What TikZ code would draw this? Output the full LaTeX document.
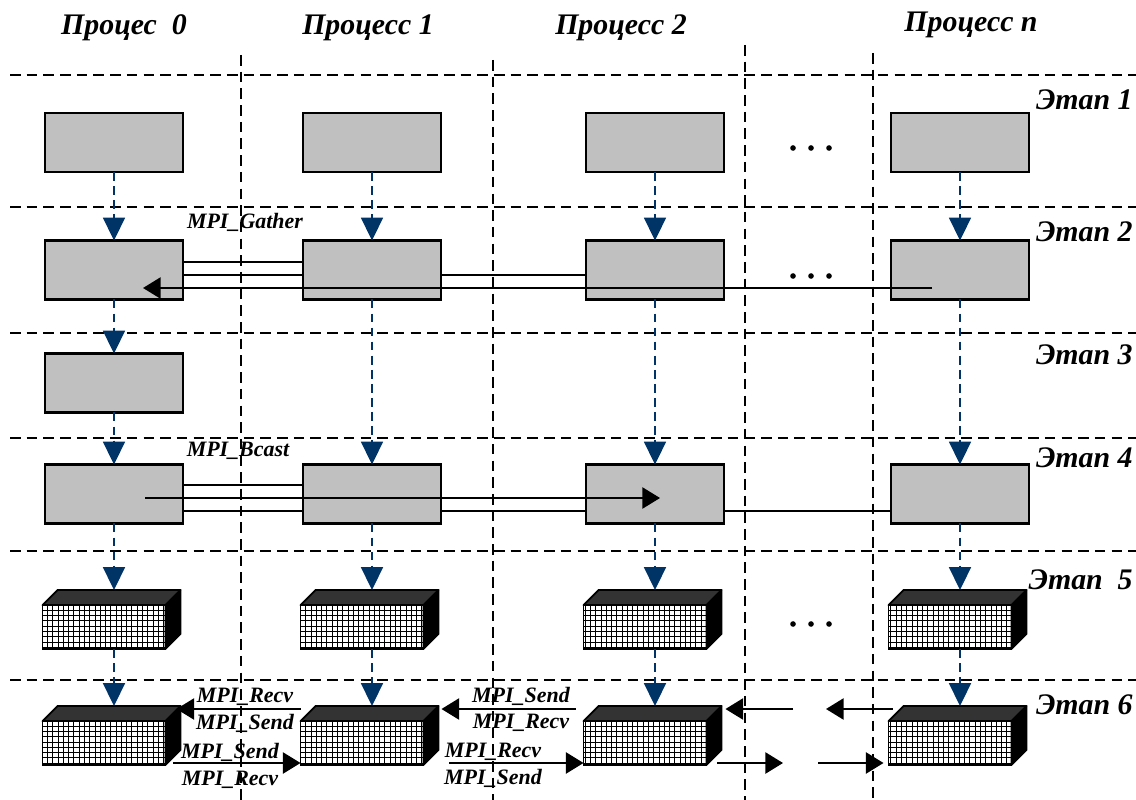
\documentclass[tikz,border=0pt]{standalone}
\usepackage{fontspec}
\setmainfont{Liberation Serif}
\usetikzlibrary{arrows.meta,patterns}
\definecolor{flowblue}{HTML}{003366}
\definecolor{boxgray}{HTML}{C0C0C0}
\definecolor{topgray}{HTML}{333333}
\newcommand\cubeblock[3]{%
  \node[cubefront] (#1) at (#2,#3) {};
  \filldraw[cubeface,fill=topgray] (#1.north west) -- ([shift={(15,-15)}]#1.north west) -- ([shift={(15,-15)}]#1.north east) -- (#1.north east) -- cycle;
  \filldraw[cubeface,fill=black] (#1.north east) -- ([shift={(15,-15)}]#1.north east) -- ([shift={(15,-15)}]#1.south east) -- (#1.south east) -- cycle;
  \coordinate (#1-top) at ([shift={(10,-15)}]#1.north);
}

\begin{document}
\begin{tikzpicture}[x=0.02cm,y=-0.02cm,
  stagebox/.style={draw,line width=1.2pt,fill=boxgray,minimum width=2.76cm,minimum height=1.18cm,inner sep=0pt,outer sep=0pt},
  cubefront/.style={draw,line width=1pt,preaction={fill=white},pattern=grid,pattern color=black,minimum width=2.46cm,minimum height=0.88cm,inner sep=0pt,outer sep=0pt},
  cubeface/.style={draw=black,line width=1pt,line join=round},
  flow/.style={flowblue,line width=1pt,dash pattern=on 5pt off 3pt,-{Triangle[length=13pt,width=12.5pt]}},
  link/.style={line width=1.1pt},
  msg/.style={link,-{Triangle[length=10pt,width=12pt]}},
  sepline/.style={line width=1.2pt,dash pattern=on 6pt off 3.5pt},
  head/.style={font=\fontsize{17}{20}\selectfont\bfseries\itshape,inner sep=0pt},
  mpi/.style={font=\fontsize{12.5}{14}\selectfont\bfseries\itshape,inner sep=0pt}]
\useasboundingbox (0,0) rectangle (1136,800);
\foreach \y in {75,207,333,438,551,680} \draw[sepline] (10,\y) -- (1136,\y);
\draw[sepline] (241,55) -- (241,800);
\draw[sepline] (493,60) -- (493,800);
\draw[sepline] (745,45) -- (745,800);
\draw[sepline] (873,53) -- (873,800);

\node[head] (hp0) at (124,28) {Процес~~0};
\node[head] (hp1) at (368,28) {Процесс 1};
\node[head] (hp2) at (621,28) {Процесс 2};
\node[head] (hpn) at (971,25) {Процесс n};

\node[head,anchor=east] (st1) at (1133,100) {Этап 1};
\node[head,anchor=east] (st2) at (1133,232) {Этап 2};
\node[head,anchor=east] (st3) at (1133,355) {Этап 3};
\node[head,anchor=east] (st4) at (1133,458) {Этап 4};
\node[head,anchor=east] (st5) at (1133,580) {Этап~~5};
\node[head,anchor=east] (st6) at (1133,705) {Этап 6};

\foreach \n/\x in {0/114,1/372,2/655,n/960} {
  \node[stagebox] (s1p\n) at (\x,142.5) {};
  \node[stagebox] (s2p\n) at (\x,270) {};
  \node[stagebox] (s4p\n) at (\x,494) {};
}
\node[stagebox] (s3p0) at (114,383) {};
\foreach \n/\x in {0/104,1/362,2/645,n/950} {
  \cubeblock{s5p\n}{\x}{627}
  \cubeblock{s6p\n}{\x}{743}
}

\foreach \n in {0,1,2,n} {
  \draw[flow] (s1p\n) -- (s2p\n);
  \draw[flow] (s4p\n) -- (s5p\n-top);
  \draw[flow] (s5p\n.south -| s5p\n-top) -- (s6p\n-top);
}
\draw[flow] (s2p0) -- (s3p0);
\draw[flow] (s3p0) -- (s4p0);
\foreach \n in {1,2,n} \draw[flow] (s2p\n) -- (s4p\n);

\foreach \y in {148,276,624} \foreach \x in {793,811,829} \fill (\x,\y) circle (1.6pt);

\node[mpi] (gather) at (245,222) {MPI\_Gather};
\draw[link] ([shift={(0,-8)}]s2p0.east) -- ([shift={(0,-8)}]s2p1.west);
\draw[link] ([shift={(0,5)}]s2p0.east) -- ([shift={(0,5)}]s2p1.west);
\draw[link] ([shift={(0,5)}]s2p1.east) -- ([shift={(0,5)}]s2p2.west);
\draw[msg] ([shift={(-28,18)}]s2pn.center) -- ([shift={(29,18)}]s2p0.center);

\node[mpi] (bcast) at (238,451) {MPI\_Bcast};
\draw[link] ([shift={(0,-9)}]s4p0.east) -- ([shift={(0,-9)}]s4p1.west);
\draw[link] ([shift={(0,17)}]s4p0.east) -- ([shift={(0,17)}]s4p1.west);
\draw[link] ([shift={(0,17)}]s4p1.east) -- ([shift={(0,17)}]s4p2.west);
\draw[link] ([shift={(0,17)}]s4p2.east) -- ([shift={(0,17)}]s4pn.west);
\draw[msg] ([shift={(31,4)}]s4p0.center) -- ([shift={(5,4)}]s4p2.center);

\node[mpi] (recv01) at (245,697) {MPI\_Recv};
\node[mpi] (send01) at (245,723) {MPI\_Send};
\node[mpi] (send10) at (230,752) {MPI\_Send};
\node[mpi] (recv10) at (230,780) {MPI\_Recv};
\node[mpi] (send12) at (521,696) {MPI\_Send};
\node[mpi] (recv12) at (521,723) {MPI\_Recv};
\node[mpi] (recv21) at (493,752) {MPI\_Recv};
\node[mpi] (send21) at (493,778) {MPI\_Send};
\coordinate (gapl) at (793,709);
\coordinate (gapr) at (826,709);
\coordinate (gapa) at (783,763);
\coordinate (gapb) at (818,763);
\draw[msg] ([shift={(0,-34)}]s6p1.west) -- ([shift={(11,-34)}]s6p0.east);
\draw[msg] ([shift={(8,20)}]s6p0.east) -- ([shift={(0,20)}]s6p1.west);
\draw[msg] ([shift={(-8,-34)}]s6p2.west) -- ([shift={(18,-34)}]s6p1.east);
\draw[msg] ([shift={(26,20)}]s6p1.east) -- ([shift={(0,20)}]s6p2.west);
\draw[msg] (gapl) -- ([shift={(19,-34)}]s6p2.east);
\draw[msg] ([shift={(4,-34)}]s6pn.west) -- (gapr);
\draw[msg] ([shift={(11,20)}]s6p2.east) -- (gapa);
\draw[msg] (gapb) -- ([shift={(-5,20)}]s6pn.west);
\end{tikzpicture}
\end{document}
